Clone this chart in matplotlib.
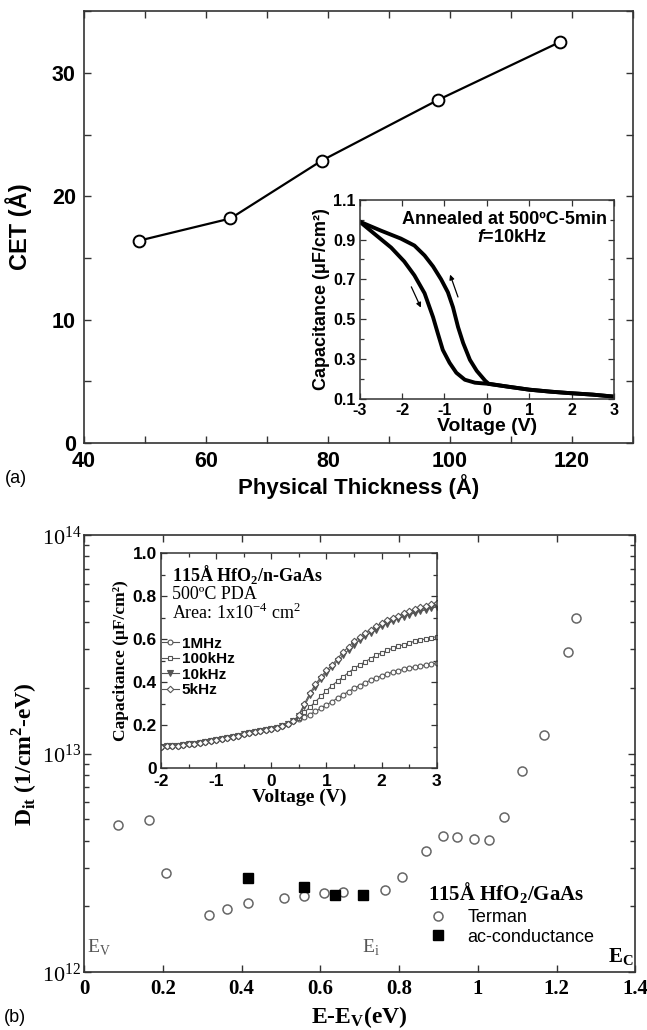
import matplotlib
matplotlib.use("Agg")
import matplotlib.pyplot as plt
from matplotlib.ticker import MultipleLocator, FixedLocator, NullFormatter, LogLocator

plt.rcParams['mathtext.fontset'] = 'custom'
plt.rcParams['mathtext.rm'] = 'Liberation Serif'
plt.rcParams['mathtext.bf'] = 'Liberation Serif:bold'
plt.rcParams['mathtext.it'] = 'Liberation Sans:italic:bold'
plt.rcParams['mathtext.sf'] = 'Liberation Sans:bold'
plt.rcParams['axes.unicode_minus'] = False

# ---------------- data: panel (a) ----------------
thickness = [49, 64, 79, 98, 118]
cet = [16.4, 18.2, 22.9, 27.8, 32.5]

# inset (a): C-V hysteresis at 10 kHz
v_down = [-3.0, -2.66, -2.26, -1.95, -1.71, -1.47, -1.27, -1.16, -1.04, -0.88, -0.72, -0.52, -0.28, 0.0, 0.5, 1.0, 1.5, 1.93, 2.5, 3.0]
c_down = [0.99, 0.93, 0.86, 0.79, 0.72, 0.63, 0.51, 0.43, 0.345, 0.28, 0.23, 0.195, 0.18, 0.175, 0.16, 0.145, 0.135, 0.128, 0.12, 0.11]
v_up = [-3.0, -2.5, -2.03, -1.71, -1.47, -1.27, -1.08, -0.92, -0.80, -0.68, -0.56, -0.40, -0.24, -0.04, 0.04, 0.5, 1.0, 1.5, 1.93, 2.5, 3.0]
c_up = [0.99, 0.945, 0.905, 0.87, 0.82, 0.765, 0.70, 0.635, 0.56, 0.46, 0.38, 0.295, 0.24, 0.19, 0.175, 0.16, 0.145, 0.135, 0.128, 0.12, 0.11]

# ---------------- data: panel (b) ----------------
e_terman = [0.087, 0.166, 0.207, 0.317, 0.364, 0.417, 0.508, 0.558, 0.609, 0.657, 0.765,
            0.807, 0.868, 0.911, 0.947, 0.989, 1.028, 1.066, 1.111, 1.168, 1.229, 1.248]
dit_terman = [4.72e12, 4.98e12, 2.85e12, 1.82e12, 1.95e12, 2.06e12, 2.19e12, 2.23e12, 2.29e12, 2.33e12, 2.37e12,
              2.71e12, 3.59e12, 4.20e12, 4.14e12, 4.07e12, 4.02e12, 5.12e12, 8.30e12, 1.22e13, 2.93e13, 4.20e13]
e_ac = [0.417, 0.558, 0.638, 0.708]
dit_ac = [2.70e12, 2.46e12, 2.26e12, 2.26e12]

# inset (b): C-V at several frequencies
volt = [-2.0, -1.9, -1.8, -1.7, -1.6, -1.5, -1.4, -1.3, -1.2, -1.1, -1.0, -0.9, -0.8, -0.7, -0.6, -0.5,
        -0.4, -0.3, -0.2, -0.1, 0.0, 0.1, 0.2, 0.3, 0.4, 0.5, 0.6, 0.7, 0.8, 0.9, 1.0, 1.1, 1.2, 1.3,
        1.4, 1.5, 1.6, 1.7, 1.8, 1.9, 2.0, 2.1, 2.2, 2.3, 2.4, 2.5, 2.6, 2.7, 2.8, 2.9, 3.0]
c_common = [0.100, 0.102, 0.104, 0.106, 0.108, 0.111, 0.114, 0.118, 0.122, 0.126, 0.130, 0.135, 0.140,
            0.146, 0.152, 0.158, 0.163, 0.168, 0.172, 0.177, 0.182, 0.188, 0.195, 0.205, 0.218]
c_5k = c_common + [0.25, 0.30, 0.35, 0.39, 0.425, 0.455, 0.48, 0.51, 0.54, 0.565, 0.59, 0.61, 0.63, 0.645,
                   0.66, 0.675, 0.69, 0.70, 0.71, 0.72, 0.73, 0.74, 0.748, 0.755, 0.762, 0.77]
c_10k = c_common + [0.245, 0.29, 0.34, 0.38, 0.415, 0.445, 0.47, 0.50, 0.525, 0.55, 0.575, 0.595, 0.615, 0.63,
                    0.645, 0.66, 0.672, 0.684, 0.695, 0.705, 0.714, 0.722, 0.73, 0.737, 0.744, 0.75]
c_100k = c_common + [0.235, 0.26, 0.285, 0.31, 0.335, 0.36, 0.385, 0.405, 0.425, 0.445, 0.465, 0.48, 0.495, 0.51,
                     0.525, 0.537, 0.548, 0.558, 0.567, 0.575, 0.583, 0.59, 0.596, 0.602, 0.607, 0.612]
c_1M = c_common + [0.228, 0.238, 0.25, 0.265, 0.28, 0.295, 0.31, 0.326, 0.342, 0.357, 0.372, 0.385, 0.398, 0.41,
                   0.42, 0.43, 0.439, 0.447, 0.454, 0.46, 0.466, 0.471, 0.476, 0.48, 0.484, 0.488]
freq_labels = ['1MHz', '100kHz', '10kHz', '5kHz']

SANS = 'Liberation Sans'
SERIF = 'Liberation Serif'

fig = plt.figure(figsize=(6.47, 10.30), dpi=100)

# ================= panel (a) =================
ax1 = fig.add_axes([0.130, 0.570, 0.848, 0.419])
ax1.plot(thickness, cet, color='black', lw=1.6, marker='o', ms=8.5, mfc='white', mec='black', mew=1.4)
ax1.set_xlim(40, 130)
ax1.set_ylim(0, 35)
ax1.xaxis.set_major_locator(FixedLocator([40, 60, 80, 100, 120]))
ax1.xaxis.set_minor_locator(MultipleLocator(10))
ax1.yaxis.set_major_locator(FixedLocator([0, 10, 20, 30]))
ax1.yaxis.set_minor_locator(MultipleLocator(5))
ax1.tick_params(which='both', direction='in', top=True, right=True, width=1.0, colors='#333333')
ax1.tick_params(which='major', length=5, pad=6)
ax1.tick_params(which='minor', length=5)
for lab in ax1.get_xticklabels() + ax1.get_yticklabels():
    lab.set_fontfamily(SANS); lab.set_fontweight('bold'); lab.set_fontsize(15.5); lab.set_color('black')
for s in ax1.spines.values():
    s.set_linewidth(1.2); s.set_color('#333333')
ax1.set_xlabel('Physical Thickness (Å)', fontfamily=SANS, fontweight='bold', fontsize=16, labelpad=1)
ax1.set_ylabel('CET (Å)', fontfamily=SANS, fontweight='bold', fontsize=17, labelpad=14)
fig.text(0.008, 0.531, '(a)', fontfamily=SANS, fontsize=13)

# inset (a)
ia = fig.add_axes([0.556, 0.613, 0.393, 0.193])
ia.plot(v_down, c_down, color='black', lw=2.8)
ia.plot(v_up, c_up, color='black', lw=2.8)
ia.annotate('', xy=(-1.53, 0.545), xytext=(-1.81, 0.675),
            arrowprops=dict(arrowstyle='-|>', color='black', lw=0.9, mutation_scale=7))
ia.annotate('', xy=(-0.89, 0.737), xytext=(-0.66, 0.598),
            arrowprops=dict(arrowstyle='-|>', color='black', lw=0.9, mutation_scale=7))
ia.set_xlim(-3, 3)
ia.set_ylim(0.1, 1.1)
ia.xaxis.set_major_locator(MultipleLocator(1))
ia.yaxis.set_major_locator(FixedLocator([0.1, 0.3, 0.5, 0.7, 0.9, 1.1]))
ia.yaxis.set_minor_locator(MultipleLocator(0.1))
ia.tick_params(which='both', direction='in', top=True, right=True, width=0.9, colors='#333333')
ia.tick_params(which='major', length=4)
ia.tick_params(axis='x', which='major', pad=3.5)
ia.tick_params(axis='y', which='major', pad=3)
ia.tick_params(which='minor', length=3)
for lab in ia.get_xticklabels() + ia.get_yticklabels():
    lab.set_fontfamily(SANS); lab.set_fontweight('bold'); lab.set_fontsize(11.5); lab.set_color('black')
for s in ia.spines.values():
    s.set_linewidth(1.1); s.set_color('#333333')
ia.set_xlabel('Voltage (V)', fontfamily=SANS, fontweight='bold', fontsize=14, labelpad=0)
ia.set_ylabel('Capacitance (μF/cm²)', fontfamily=SANS, fontweight='bold', fontsize=13, labelpad=2)
ia.text(0.57, 0.90, 'Annealed at 500ºC-5min', transform=ia.transAxes, ha='center', va='center',
        fontfamily=SANS, fontweight='bold', fontsize=13)
ia.text(0.60, 0.81, r'$\it{f}$=10kHz', transform=ia.transAxes, ha='center', va='center',
        fontfamily=SANS, fontweight='bold', fontsize=13)

# ================= panel (b) =================
ax2 = fig.add_axes([0.130, 0.0563, 0.852, 0.424])
ax2.set_yscale('log')
ax2.plot(e_terman, dit_terman, ls='none', marker='o', ms=6.5, mfc='white', mec='#666666', mew=1.1, label='Terman')
ax2.plot(e_ac, dit_ac, ls='none', marker='s', ms=6.5, mfc='black', mec='black', label='ac-conductance')
ax2.set_xlim(0, 1.4)
ax2.set_ylim(1e12, 1e14)
ax2.yaxis.set_minor_locator(LogLocator(base=10, subs=range(2, 10)))
ax2.yaxis.set_minor_formatter(NullFormatter())
ax2.set_xticks([0, 0.2, 0.4, 0.6, 0.8, 1.0, 1.2, 1.4])
ax2.set_xticklabels(['0', '0.2', '0.4', '0.6', '0.8', '1', '1.2', '1.4'])
ax2.set_yticks([1e12, 1e13, 1e14])
ax2.set_yticklabels([r'$\mathrm{10^{12}}$', r'$\mathrm{10^{13}}$', r'$\mathrm{10^{14}}$'])
ax2.tick_params(which='both', direction='in', top=True, right=True, width=1.0, colors='#333333')
ax2.tick_params(which='major', length=5, pad=5)
ax2.tick_params(which='minor', length=3.5)
for lab in ax2.get_xticklabels():
    lab.set_fontfamily(SERIF); lab.set_fontweight('bold'); lab.set_fontsize(15); lab.set_color('black')
for lab in ax2.get_yticklabels():
    lab.set_fontsize(16); lab.set_color('black')
ax2.tick_params(axis='y', which='major', pad=2)
for s in ax2.spines.values():
    s.set_linewidth(1.2); s.set_color('#333333')
ax2.set_xlabel(r'E-E$_{\mathbf{V}}$(eV)', fontfamily=SERIF, fontweight='bold', fontsize=17, labelpad=4)
ax2.set_ylabel(r'D$_{\mathbf{it}}$ (1/cm$^{\mathbf{2}}$-eV)', fontfamily=SERIF, fontweight='bold', fontsize=17, labelpad=2)
fig.text(0.006, 0.008, '(b)', fontfamily=SANS, fontsize=13)

ax2.text(0.005, 0.035, r'E$_{\mathrm{V}}$', transform=ax2.transAxes, ha='left', va='bottom',
         fontfamily=SERIF, fontsize=14, color='#555555')
ax2.text(0.505, 0.035, r'E$_{\mathrm{i}}$', transform=ax2.transAxes, ha='left', va='bottom',
         fontfamily=SERIF, fontsize=14, color='#555555')
ax2.text(0.997, 0.01, r'E$_{\mathbf{C}}$', transform=ax2.transAxes, ha='right', va='bottom',
         fontfamily=SERIF, fontweight='bold', fontsize=15, color='black')

leg = ax2.legend(loc='upper left', bbox_to_anchor=(0.61, 0.225), frameon=False,
                 prop={'family': SANS, 'size': 13}, handlelength=1.2, handletextpad=1.0,
                 labelspacing=0.15, borderaxespad=0,
                 title=r'115Å HfO$_{\mathbf{2}}$/GaAs',
                 title_fontproperties={'family': SERIF, 'weight': 'bold', 'size': 15})
leg._legend_box.align = 'left'

# inset (b)
ib = fig.add_axes([0.249, 0.254, 0.426, 0.209])
gc = '#555555'
ib.plot(volt, c_1M, color=gc, lw=0.8, marker='o', ms=3.5, mfc='white', mec=gc, mew=0.8, label=freq_labels[0])
ib.plot(volt, c_100k, color=gc, lw=0.8, marker='s', ms=3.3, mfc='white', mec=gc, mew=0.8, label=freq_labels[1])
ib.plot(volt, c_10k, color=gc, lw=0.8, marker='v', ms=3.8, mfc=gc, mec=gc, mew=0.8, label=freq_labels[2])
ib.plot(volt, c_5k, color=gc, lw=0.8, marker='D', ms=3.3, mfc='white', mec=gc, mew=0.8, label=freq_labels[3])
ib.set_xlim(-2, 3)
ib.set_ylim(0, 1.0)
ib.xaxis.set_major_locator(MultipleLocator(1))
ib.xaxis.set_minor_locator(MultipleLocator(0.5))
ib.yaxis.set_minor_locator(MultipleLocator(0.1))
ib.set_yticks([0, 0.2, 0.4, 0.6, 0.8, 1.0])
ib.set_yticklabels(['0', '0.2', '0.4', '0.6', '0.8', '1.0'])
ib.tick_params(which='both', direction='in', top=True, right=True, width=0.9, colors='#333333')
ib.tick_params(which='major', length=4)
ib.tick_params(axis='x', which='major', pad=4)
ib.tick_params(axis='y', which='major', pad=3)
ib.tick_params(which='minor', length=3)
for lab in ib.get_xticklabels() + ib.get_yticklabels():
    lab.set_fontfamily(SANS); lab.set_fontweight('bold'); lab.set_fontsize(12.5); lab.set_color('black')
for s in ib.spines.values():
    s.set_linewidth(1.1); s.set_color('#333333')
ib.set_xlabel('Voltage (V)', fontfamily=SERIF, fontweight='bold', fontsize=14, labelpad=0)
ib.set_ylabel('Capacitance (μF/cm²)', fontfamily=SERIF, fontweight='bold', fontsize=12.5, labelpad=3)
ib.text(0.04, 0.90, r'115Å HfO$_{\mathbf{2}}$/n-GaAs', transform=ib.transAxes, ha='left', va='center',
        fontfamily=SERIF, fontweight='bold', fontsize=13)
ib.text(0.04, 0.81, '500ºC PDA', transform=ib.transAxes, ha='left', va='center',
        fontfamily=SERIF, fontsize=13)
ib.text(0.04, 0.72, r'Area: 1x10$^{\mathrm{-4}}$ cm$^{\mathrm{2}}$', transform=ib.transAxes, ha='left', va='center',
        fontfamily=SERIF, fontsize=13)
ib.legend(loc='upper left', bbox_to_anchor=(-0.02, 0.64), frameon=False,
          prop={'family': SANS, 'weight': 'bold', 'size': 11}, handlelength=1.1, handletextpad=0.2,
          labelspacing=0.1, borderaxespad=0, markerscale=1.0)

fig.savefig('out.png', dpi=100)
